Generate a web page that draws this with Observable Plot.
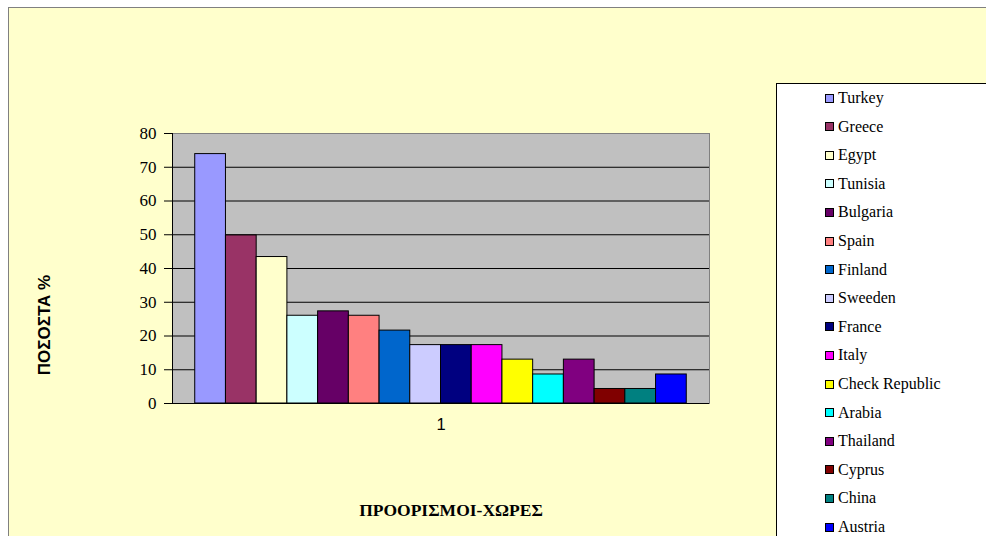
<!DOCTYPE html>
<html>
<head>
<meta charset="utf-8">
<script src="https://cdn.jsdelivr.net/npm/d3@7"></script>
<script src="https://cdn.jsdelivr.net/npm/@observablehq/plot@0.6"></script>
<style>
  html, body { margin: 0; padding: 0; background: #ffffff; }
  #wrap { position: relative; width: 986px; height: 536px; overflow: hidden; }
  #bg { position: absolute; left: 8px; top: 7px; width: 990px; height: 540px; background: #FFFFCC; border: 1px solid #808080; box-sizing: border-box; }
  #chart { position: absolute; left: 0; top: 0; }
  #ytitle { position: absolute; left: 45px; top: 325px; transform: translate(-50%, -50%) rotate(-90deg); font: bold 17px "Liberation Sans", Arial, sans-serif; white-space: nowrap; color: #000; }
  #xtitle { position: absolute; left: 451px; top: 510px; transform: translate(-50%, -50%); font: bold 17.5px "Liberation Serif", "Times New Roman", serif; white-space: nowrap; color: #000; }
  #legend { position: absolute; left: 776px; top: 83px; width: 230px; height: 470px; background: #fff; border: 1px solid #000; box-sizing: border-box; }
  .item { position: absolute; left: 48px; height: 20px; display: flex; align-items: center; font: 16px "Liberation Serif", "Times New Roman", serif; color: #000; white-space: nowrap; }
  .sw { width: 7px; height: 7px; border: 1px solid #000; margin-right: 4px; }
</style>
</head>
<body>
<div id="wrap">
  <div id="bg"></div>
  <div id="chart"></div>
  <div id="ytitle"></div>
  <div id="xtitle"></div>
  <div id="legend"></div>
</div>
<script>
const countries = ["Turkey","Greece","Egypt","Tunisia","Bulgaria","Spain","Finland","Sweeden","France","Italy","Check Republic","Arabia","Thailand","Cyprus","China","Austria"];
const values = [73.9, 49.8, 43.4, 26.0, 27.3, 26.0, 21.6, 17.3, 17.3, 17.3, 13.0, 8.6, 13.0, 4.3, 4.3, 8.6];
const colors = ["#9999FF","#993366","#FFFFCC","#CCFFFF","#660066","#FF8080","#0066CC","#CCCCFF","#000080","#FF00FF","#FFFF00","#00FFFF","#800080","#800000","#008080","#0000FF"];
const groupLabel = ["1"];
const yTicks = [0, 10, 20, 30, 40, 50, 60, 70, 80];
const gridTicks = [10, 20, 30, 40, 50, 60, 70];
const yTitle = "ΠΟΣΟΣΤΑ %";
const xTitle = "ΠΡΟΟΡΙΣΜΟΙ-ΧΩΡΕΣ";

const data = countries.map((c, i) => ({country: c, value: values[i], group: groupLabel[0]}));

const plot = Plot.plot({
  width: 986,
  height: 536,
  marginLeft: 172,
  marginRight: 277,
  marginTop: 133,
  marginBottom: 133,
  style: {background: "transparent", fontFamily: "'Liberation Serif', 'Times New Roman', serif", color: "#000"},
  fx: {domain: groupLabel, padding: 0, round: false},
  x: {domain: countries, paddingInner: 0, paddingOuter: 0.74, round: false, axis: null},
  y: {domain: [0, 80]},
  color: {domain: countries, range: colors},
  marks: [
    Plot.frame({fill: "#C0C0C0", stroke: "#808080"}),
    Plot.gridY(gridTicks, {stroke: "#000", strokeOpacity: 1, strokeWidth: 1}),
    Plot.barY(data, {fx: "group", x: "country", y: "value", fill: "country", stroke: "#000", strokeWidth: 1}),
    Plot.ruleY([0], {stroke: "#000", strokeWidth: 1}),
    Plot.frame({anchor: "left", stroke: "#000"}),
    Plot.axisY(yTicks, {tickSize: 8, tickPadding: 8, fontSize: 17, label: null, stroke: "#000"}),
    Plot.axisFx({anchor: "bottom", label: null, tickSize: 0, tickPadding: 15, fontSize: 16.5, fontFamily: "'Liberation Sans', Arial, sans-serif"})
  ]
});
document.getElementById("chart").appendChild(plot);

document.getElementById("ytitle").textContent = yTitle;
document.getElementById("xtitle").textContent = xTitle;

const colorScale = plot.scale("color");
const legend = document.getElementById("legend");
countries.forEach((c, i) => {
  const item = document.createElement("div");
  item.className = "item";
  item.style.top = (97 - 83 - 10 + i * 28.6) + "px";
  const sw = document.createElement("div");
  sw.className = "sw";
  sw.style.background = colorScale.apply(c);
  const t = document.createElement("span");
  t.textContent = c;
  item.appendChild(sw);
  item.appendChild(t);
  legend.appendChild(item);
});
</script>
</body>
</html>
